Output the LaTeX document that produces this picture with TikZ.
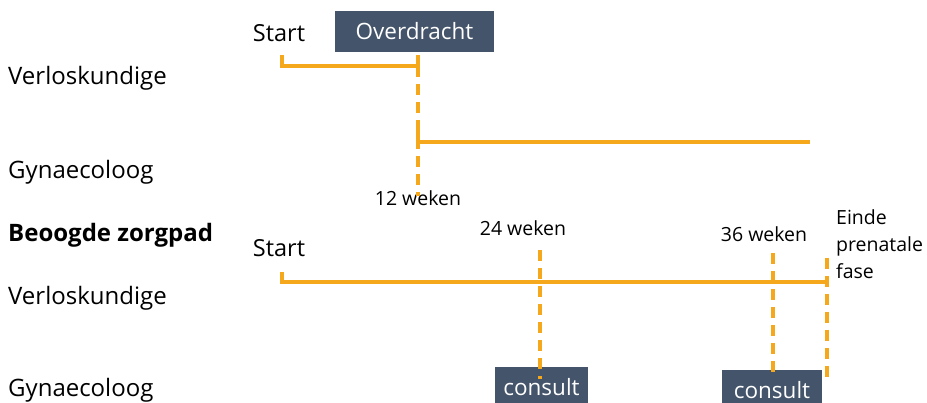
\documentclass[tikz,border=0pt]{standalone}
\usepackage{fontspec}
\setmainfont{Open Sans}
\usetikzlibrary{positioning}
\definecolor{slate}{HTML}{44546A}
\definecolor{amber}{HTML}{F5A81C}

\begin{document}
\begin{tikzpicture}[x=1pt,y=-1pt,
  lane/.style={anchor=west,inner sep=0pt,font=\fontsize{24}{28}\selectfont},
  tag/.style={inner sep=0pt,font=\fontsize{23.5}{28}\selectfont},
  wk/.style={inner sep=0pt,font=\fontsize{19.5}{27}\selectfont},
  phase/.style={fill=slate,text=white,inner sep=0pt,font=\fontsize{22.5}{27}\selectfont},
  track/.style={draw=amber,line width=3.2pt},
  split/.style={draw=amber,line width=3.2pt,dash pattern=on 11pt off 7pt}]
\useasboundingbox (0,0) rectangle (927,403);
% lane labels
\node[lane] (vkA) at (8,78) {Verloskundige};
\node[lane] (gynA) at (8,172) {Gynaecoloog};
\node[lane] (goal) at (8,235) {\textbf{Beoogde zorgpad}};
\node[lane] (vkB) at (8,298) {Verloskundige};
\node[lane] (gynB) at (8,390) {Gynaecoloog};
% current path
\node[tag] (startA) at (279,33) {Start};
\node[phase,minimum width=159pt,minimum height=41pt] (handover) at (414.5,31.5) {Overdracht};
\node[wk] (w12) at (418,198) {12 weken};
\coordinate (sA) at (282,55);
\coordinate (hA) at (418,66);
\coordinate (hAup) at (418,55);
\coordinate (gA) at (418,130);
\coordinate (gAend) at (810,142);
\draw[track] (sA) |- (hA) -- (hAup);
\draw[split] (hA) -- ([yshift=-6pt]w12.north);
\draw[track] (gA) |- (gAend);
% intended path
\node[tag] (startB) at (279,248) {Start};
\node[wk] (w24) at (523,228) {24 weken};
\node[wk] (w36) at (764,234) {36 weken};
\node[wk,anchor=north west,align=left] (eind) at (836,209) {Einde\\prenatale\\fase};
\node[phase,minimum width=93pt,minimum height=40pt,anchor=north] (cons1) at (541.5,367) {consult};
\node[phase,minimum width=100pt,minimum height=40pt,anchor=north] (cons2) at (772,370) {consult};
\coordinate (sB) at (282,272);
\coordinate (eB) at (827,282);
\coordinate (t24) at (540,250);
\coordinate (t36) at (773,253);
\coordinate (tEnd) at (827,258);
\coordinate (bEnd) at (827,380);
\draw[track] (sB) |- (eB);
\draw[split] (t24) -- ([yshift=-12pt]cons1.north -| t24);
\draw[split] (t36) -- ([yshift=-5pt]cons2.north -| t36);
\draw[split] (tEnd) -- (bEnd);
\end{tikzpicture}
\end{document}
